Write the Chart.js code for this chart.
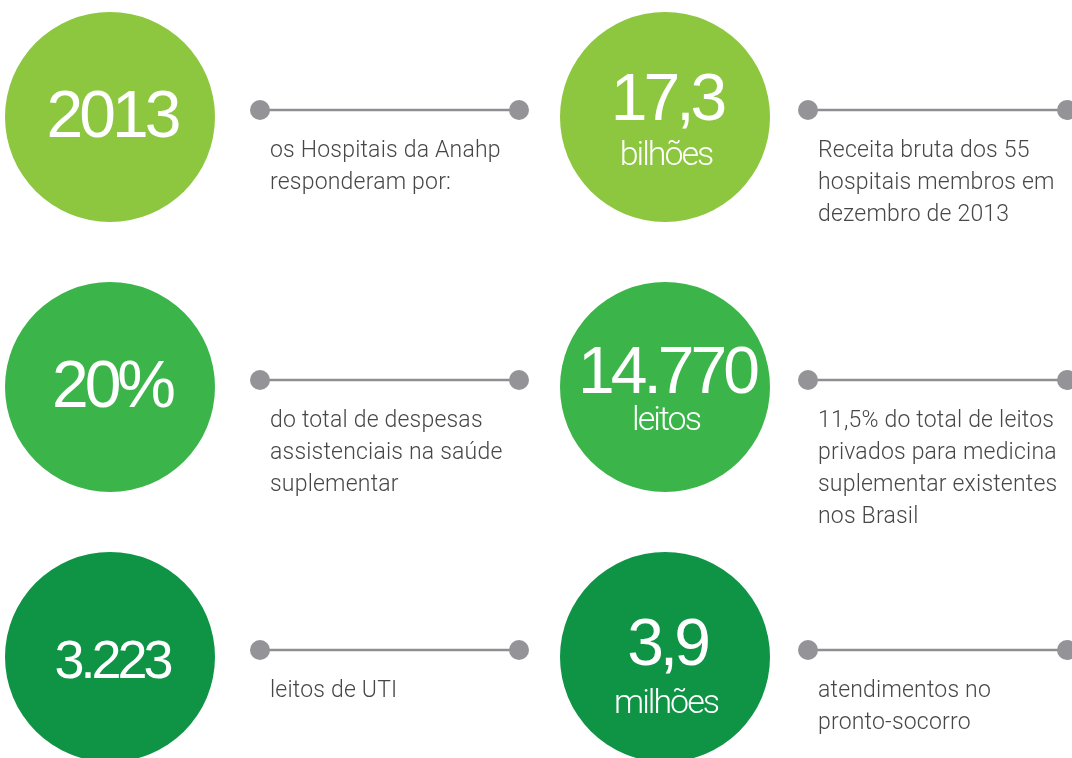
<!DOCTYPE html>
<html lang="pt">
<head>
    <meta charset="UTF-8">
    <title>Anahp 2013</title>
    <script src="https://cdn.jsdelivr.net/npm/chart.js"></script>
    <style>
        html, body { margin: 0; padding: 0; background: #ffffff; overflow: hidden; }
        .chart-container { width: 1072px; height: 758px; }
    </style>
</head>
<body>
<div class="chart-container">
    <canvas id="infoChart"></canvas>
</div>
<script>
    // dados
    const valores = ['2013', '17,3', '20%', '14.770', '3.223', '3,9'];
    const unidades = ['', 'bilhões', '', 'leitos', '', 'milhões'];
    const descricoes = [
        ['os Hospitais da Anahp', 'responderam por:'],
        ['Receita bruta dos 55', 'hospitais membros em', 'dezembro de 2013'],
        ['do total de despesas', 'assistenciais na saúde', 'suplementar'],
        ['11,5% do total de leitos', 'privados para medicina', 'suplementar existentes', 'nos Brasil'],
        ['leitos de UTI'],
        ['atendimentos no', 'pronto-socorro']
    ];
    const coresLinha = ['#8dc63f', '#3bb54a', '#0f9345'];

    // layout
    const colunaX = [110, 665];
    const linhaY = [117, 387, 657];
    const raio = 105;
    const tamanhoNumero = [66, 66, 66, 66, 54, 66];
    const baseNumero = [20, 3, 20, 6, 21, 8];
    const baseUnidade = [0, 48, 0, 43, 0, 56];
    const conectorX = [[260, 519], [808, 1067]];
    const textoX = [270, 818];
    const conectorDy = -7, raioPonto = 10;
    const textoDy = 40, entrelinha = 32;

    const itens = valores.map((v, i) => ({
        x: colunaX[i % 2],
        y: linhaY[Math.floor(i / 2)],
        r: raio
    }));
    const coresCirculos = valores.map((v, i) => coresLinha[Math.floor(i / 2)]);

    const conectores = itens.map((p, i) => ({
        type: 'line',
        data: [
            {x: conectorX[i % 2][0], y: p.y + conectorDy},
            {x: conectorX[i % 2][1], y: p.y + conectorDy}
        ],
        borderColor: '#8e8e92',
        borderWidth: 2.5,
        pointRadius: raioPonto,
        pointBackgroundColor: '#939398',
        pointBorderWidth: 0,
        showLine: true,
        clip: false
    }));

    const textos = {
        id: 'textos',
        afterDatasetsDraw(chart) {
            const ctx = chart.ctx;
            const sx = chart.scales.x, sy = chart.scales.y;
            ctx.save();
            itens.forEach((p, i) => {
                const cx = sx.getPixelForValue(p.x);
                const cy = sy.getPixelForValue(p.y);
                ctx.fillStyle = '#ffffff';
                ctx.textAlign = 'center';
                ctx.textBaseline = 'alphabetic';
                ctx.letterSpacing = '-4px';
                ctx.font = '400 ' + tamanhoNumero[i] + 'px "Liberation Sans", Arial, sans-serif';
                ctx.fillText(valores[i], cx + 2, cy + baseNumero[i]);
                if (unidades[i]) {
                    ctx.letterSpacing = '-2px';
                    ctx.font = '300 34px Roboto, "Liberation Sans", sans-serif';
                    ctx.fillText(unidades[i], cx + 1, cy + baseUnidade[i]);
                }
                ctx.letterSpacing = '0.2px';
                ctx.textAlign = 'left';
                ctx.fillStyle = '#474747';
                ctx.font = '300 23px Roboto, "Liberation Sans", sans-serif';
                const tx = sx.getPixelForValue(textoX[i % 2]);
                descricoes[i].forEach((linha, k) => {
                    ctx.fillText(linha, tx, cy + textoDy + k * entrelinha);
                });
            });
            ctx.restore();
        }
    };

    const ctx = document.getElementById('infoChart').getContext('2d');
    new Chart(ctx, {
        type: 'bubble',
        data: {
            datasets: [{
                label: 'Indicadores',
                data: itens,
                backgroundColor: coresCirculos,
                borderWidth: 0,
                hoverRadius: 0,
                clip: false
            }, ...conectores]
        },
        options: {
            responsive: true,
            maintainAspectRatio: false,
            animation: false,
            layout: { padding: 0, autoPadding: false },
            scales: {
                x: { type: 'linear', min: 0, max: 1072, display: false },
                y: { type: 'linear', min: 0, max: 758, reverse: true, display: false }
            },
            plugins: {
                legend: { display: false },
                tooltip: { enabled: false }
            }
        },
        plugins: [textos]
    });
</script>
</body>
</html>
